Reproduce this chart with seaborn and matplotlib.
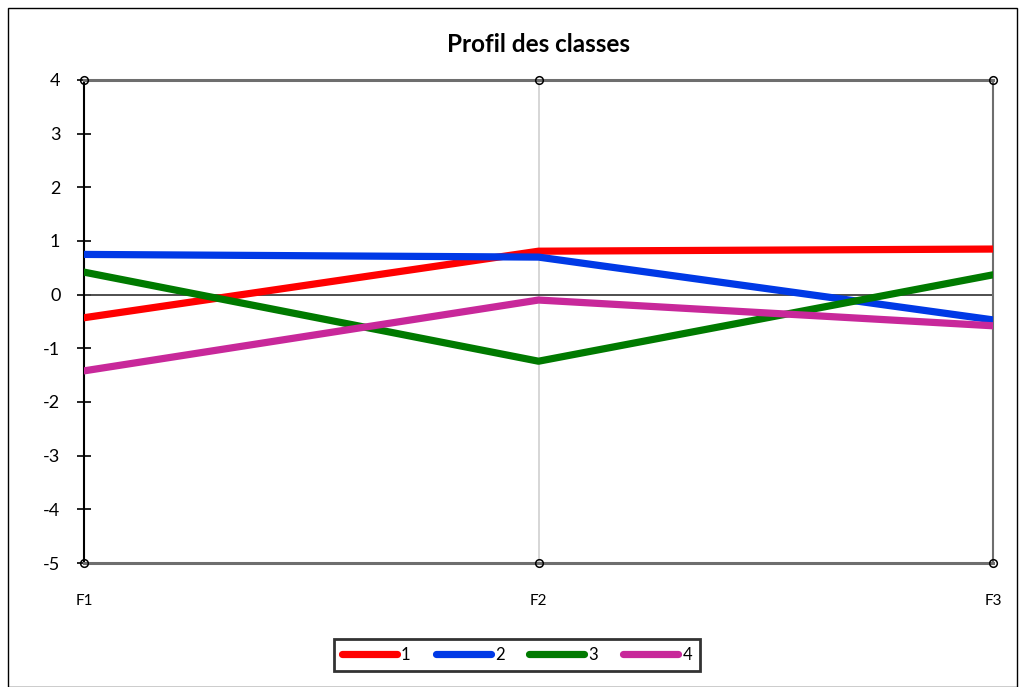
import numpy as np
import pandas as pd
import seaborn as sns
import matplotlib.pyplot as plt
from matplotlib.patches import Rectangle

# Data
facteurs = ['F1', 'F2', 'F3']
classes = ['1', '2', '3', '4']
classe1 = [-0.43, 0.81, 0.85]
classe2 = [0.75, 0.70, -0.47]
classe3 = [0.42, -1.24, 0.37]
classe4 = [-1.42, -0.10, -0.58]
yticks = [-5, -4, -3, -2, -1, 0, 1, 2, 3, 4]
couleurs = ['#ff0000', '#0039e6', '#007a00', '#c8289a']

rows = []
for cl, vals in zip(classes, [classe1, classe2, classe3, classe4]):
    for i, v in enumerate(vals):
        rows.append({'pos': i, 'valeur': v, 'classe': cl})
df = pd.DataFrame(rows)

sns.set_style('white')
plt.rcParams['font.family'] = ['Lato', 'DejaVu Sans']
plt.rcParams['axes.unicode_minus'] = False
plt.rcParams['text.color'] = 'black'

fig = plt.figure(figsize=(10.2, 6.87), dpi=100)
ax = fig.add_axes([84 / 1020, 1 - 563 / 687, (993 - 84) / 1020, (563 - 80) / 687])

# grid / reference lines
ax.axvline(1, color='#d0d0d0', lw=1.2, zorder=0)
ax.axhline(0, color='#404040', lw=1.3, zorder=1)

sns.lineplot(data=df, x='pos', y='valeur', hue='classe', palette=couleurs,
             linewidth=5.2, ax=ax, zorder=3)
handles, labels = ax.get_legend_handles_labels()
ax.get_legend().remove()

ax.set_xlim(0, len(facteurs) - 1)
ax.set_ylim(min(yticks), max(yticks))
ax.set_yticks(yticks)
ax.set_xticks(range(len(facteurs)))
ax.set_xticklabels(facteurs)
ax.set_xlabel('')
ax.set_ylabel('')

for s in ['top', 'bottom', 'right']:
    ax.spines[s].set_color('#6e6e6e')
    ax.spines[s].set_linewidth(2.2)
ax.spines['right'].set_linewidth(1.5)
ax.spines['left'].set_color('black')
ax.spines['left'].set_linewidth(1.5)

ax.tick_params(axis='y', direction='inout', length=10, width=1.2, color='black',
               labelsize=13, pad=12, left=True, labelcolor='black')
ax.tick_params(axis='x', length=0, labelsize=11, pad=22, labelcolor='black')

# open circle markers at the top and bottom of each category
for i in range(len(facteurs)):
    for yy in (min(yticks), max(yticks)):
        ax.plot(i, yy, marker='o', ms=5.5, mfc='none', mec='black', mew=1.1,
                clip_on=False, zorder=6)

ax.set_title('Profil des classes', fontsize=17.5, fontweight='bold', pad=20, color='black')

for h in handles:
    h.set_solid_capstyle('round')
leg = fig.legend(handles, labels, loc='center', bbox_to_anchor=(517 / 1020, 1 - 655 / 687),
                 ncol=4, frameon=True, fancybox=False, fontsize=12, handlelength=3.3,
                 handletextpad=0.25, columnspacing=1.5, borderpad=0.5)
leg.get_frame().set_edgecolor('black')
leg.get_frame().set_linewidth(2)
for t in leg.get_texts():
    t.set_color('black')

fig.patches.append(Rectangle((8 / 1020, 0), 1009 / 1020, 1 - 8 / 687, transform=fig.transFigure,
                             fill=False, edgecolor='black', lw=1))

fig.savefig('out.png', dpi=100)
